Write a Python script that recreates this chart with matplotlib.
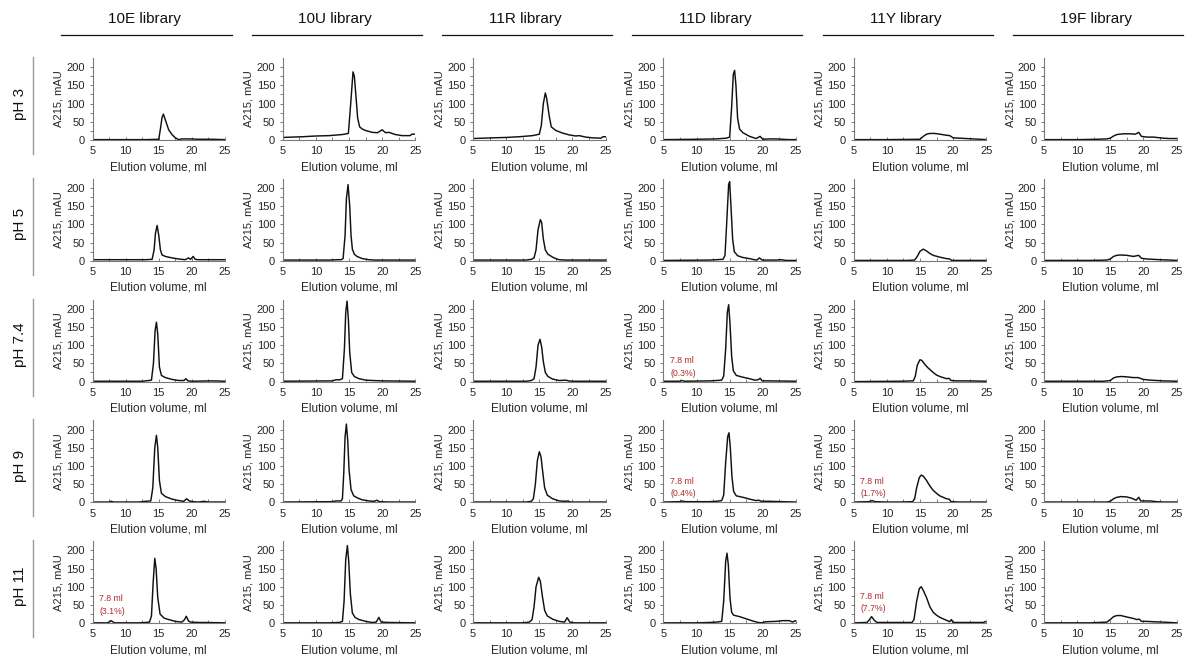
import numpy as np
import matplotlib
matplotlib.use("Agg")
import matplotlib.pyplot as plt
from matplotlib.lines import Line2D

plt.rcParams['font.family'] = ['Liberation Sans', 'DejaVu Sans']

libraries = ["10E library", "10U library", "11R library", "11D library", "11Y library", "19F library"]
ph_labels = ["pH 3", "pH 5", "pH 7.4", "pH 9", "pH 11"]

# chromatograms: (elution volume ml, A215 mAU)
# pH 3
ph3_10E = [(5, 1), (13, 1), (15.0, 2), (15.25, 30), (15.5, 62), (15.7, 71), (16.0, 55), (16.5, 28),
           (17, 15), (17.5, 6), (18, 1), (18.5, 3), (19.5, 3), (21, 2), (23, 2), (25, 1)]
ph3_10U = [(5, 7), (8, 9), (10, 11), (12, 12), (14, 15), (14.9, 18), (15.25, 100), (15.6, 187),
           (15.8, 175), (16.0, 130), (16.3, 60), (16.6, 36), (17, 30), (17.5, 26), (18.5, 21), (19.3, 20),
           (20, 28), (20.5, 20), (21, 21), (22, 15), (23, 12), (24.2, 12), (24.5, 16), (25, 16)]
ph3_11R = [(5, 4), (8, 6), (10, 7), (12, 9), (14, 12), (15.0, 16), (15.3, 40), (15.6, 100),
           (15.9, 129), (16.1, 115), (16.5, 65), (16.8, 36), (17.5, 26), (18.5, 19), (19.5, 14),
           (20.5, 11), (21, 12), (22, 8), (23, 6), (24.3, 5), (24.6, 9), (25, 9)]
ph3_11D = [(5, 1), (10, 2), (13, 3), (14.5, 5), (15.0, 8), (15.3, 90), (15.55, 180), (15.75, 191),
           (15.95, 150), (16.2, 60), (16.5, 30), (17, 20), (18, 10), (19, 4), (19.6, 10), (20, 2),
           (21, 3), (22, 3), (24, 1), (25, 1)]
ph3_11Y = [(5, 1), (10, 1), (15.0, 2), (15.5, 10), (16, 16), (16.5, 18), (17.2, 18), (18, 16),
           (19, 13), (19.5, 12), (20, 6), (21, 5), (22, 4), (23, 3), (24, 2), (25, 1)]
ph3_19F = [(5, 1), (10, 1), (13, 2), (14.5, 3), (15, 5), (15.5, 11), (16, 15), (17, 17), (18, 17),
           (18.8, 16), (19.3, 21), (19.7, 10), (20.5, 8), (21.5, 8), (22, 7), (23, 5), (24, 4), (25, 4)]

# pH 5
ph5_10E = [(5, 3), (13, 3), (14, 4), (14.3, 30), (14.5, 75), (14.75, 97), (15, 70), (15.25, 30),
           (15.5, 16), (16, 12), (16.5, 10), (17, 8), (18, 5), (19, 3), (19.5, 8), (19.8, 4),
           (20.2, 12), (20.5, 4), (21, 3), (25, 3)]
ph5_10U = [(5, 2), (12, 2), (13.3, 3), (13.8, 3), (14.1, 6), (14.4, 70), (14.6, 170), (14.85, 209),
           (15.1, 150), (15.3, 70), (15.5, 32), (15.8, 18), (16.2, 12), (17, 6), (18, 3), (19, 2), (25, 2)]
ph5_11R = [(5, 2), (13, 2), (13.8, 4), (14.2, 8), (14.5, 30), (14.8, 85), (15.15, 113), (15.35, 105),
           (15.6, 60), (15.9, 30), (16.3, 18), (17, 10), (17.5, 6), (18, 3), (19, 2), (25, 2)]
ph5_11D = [(5, 1), (12, 2), (13, 3), (14.0, 4), (14.3, 15), (14.6, 120), (14.85, 210), (15.0, 217),
           (15.2, 150), (15.45, 60), (15.7, 25), (16.2, 14), (17, 9), (18, 6), (18.7, 3), (19.1, 2),
           (19.5, 8), (19.9, 2), (22, 2), (22.8, 3), (23.5, 1), (25, 1)]
ph5_11Y = [(5, 1), (13, 1), (14.2, 2), (14.6, 12), (15.0, 26), (15.5, 32), (16, 27), (16.5, 20),
           (17, 15), (18, 10), (19, 6), (19.5, 5), (19.8, 1), (21, 1), (25, 1)]
ph5_19F = [(5, 1), (12, 1), (14.5, 2), (15, 5), (15.5, 12), (16, 15), (16.5, 16), (17.5, 15),
           (18.5, 12), (19.3, 15), (19.7, 7), (20.5, 5), (21.5, 4), (22.5, 3), (24, 2), (25, 1)]

# pH 7.4
ph74_10E = [(5, 1), (12.5, 1), (13.5, 3), (13.9, 4), (14.2, 50), (14.45, 140), (14.65, 163),
            (14.85, 130), (15.1, 40), (15.4, 17), (16, 11), (17, 6), (18, 3), (18.8, 3), (19.1, 8),
            (19.4, 2), (20, 1), (23, 2), (25, 1)]
ph74_10U = [(5, 1), (12.5, 2), (13, 5), (13.6, 5), (14.0, 8), (14.3, 90), (14.5, 190), (14.7, 221),
            (14.9, 170), (15.1, 80), (15.4, 25), (15.8, 14), (16.5, 8), (17.5, 4), (18.5, 3), (20, 2), (25, 1)]
ph74_11R = [(5, 1), (13, 1), (13.8, 3), (14.2, 8), (14.5, 40), (14.8, 100), (15.1, 116), (15.35, 95),
            (15.6, 55), (15.9, 25), (16.3, 14), (17, 7), (18, 3), (19, 4), (19.4, 2), (20, 1), (25, 1)]
ph74_11D = [(5, 1), (7.5, 1), (7.8, 3), (8.2, 1), (12, 2), (13, 3), (13.8, 4), (14.1, 15), (14.4, 90),
            (14.65, 190), (14.85, 211), (15.05, 160), (15.3, 70), (15.55, 30), (16, 17), (17, 12),
            (18, 8), (18.8, 4), (19.3, 5), (19.6, 9), (19.9, 2), (21, 2), (25, 1)]
ph74_11Y = [(5, 0), (12, 1), (14, 2), (14.3, 15), (14.6, 45), (15.0, 60), (15.3, 58), (15.7, 48),
            (16.2, 38), (17, 25), (17.5, 18), (18, 14), (18.5, 11), (19, 8), (19.4, 9), (19.7, 3),
            (20.5, 2), (22, 2), (25, 1)]
ph74_19F = [(5, 1), (14, 1), (15, 3), (15.5, 10), (16, 13), (16.7, 14), (17.5, 13), (18.5, 11),
            (19.2, 11), (20, 6), (21, 4), (22, 3), (23, 2), (25, 1)]

# pH 9
ph9_10E = [(5, 1), (7.5, 1), (7.8, 3), (8.2, 1), (12, 1), (13, 3), (13.8, 4), (14.1, 40), (14.4, 150),
           (14.65, 184), (14.85, 150), (15.1, 60), (15.4, 25), (16, 16), (17, 9), (18, 5), (18.8, 3),
           (19.2, 10), (19.6, 4), (20.2, 2), (21, 1), (21.8, 3), (22.5, 1), (25, 1)]
ph9_10U = [(5, 1), (12.5, 2), (13, 4), (13.8, 4), (14.0, 10), (14.2, 80), (14.4, 180), (14.6, 215),
           (14.8, 170), (15.0, 90), (15.3, 35), (15.7, 18), (16.3, 12), (17, 7), (18, 4), (18.8, 3),
           (19.2, 6), (19.6, 2), (21, 1), (25, 1)]
ph9_11R = [(5, 1), (13, 1), (13.8, 3), (14.1, 10), (14.4, 50), (14.7, 115), (15.0, 139), (15.25, 125),
           (15.5, 85), (15.8, 40), (16.2, 20), (17, 10), (18, 4), (19, 3), (19.3, 4), (19.7, 1), (25, 1)]
ph9_11D = [(5, 1), (7.5, 2), (7.8, 4), (8.3, 2), (12, 2), (13, 3), (13.8, 5), (14.1, 20), (14.4, 110),
           (14.7, 180), (14.9, 191), (15.1, 150), (15.35, 70), (15.6, 30), (16, 18), (17, 14), (18, 9),
           (19, 5), (19.4, 6), (19.8, 3), (21, 3), (23, 2), (25, 1)]
ph9_11Y = [(5, 1), (7.3, 2), (7.8, 5), (8.2, 2), (10, 1), (12, 1), (13.9, 2), (14.2, 10), (14.5, 40),
           (14.9, 68), (15.2, 75), (15.5, 72), (16, 60), (16.5, 45), (17, 33), (17.5, 25), (18, 18),
           (18.5, 14), (19, 10), (19.4, 9), (19.7, 2), (21, 1), (25, 1)]
ph9_19F = [(5, 1), (14.5, 1), (15, 3), (15.5, 10), (16, 14), (16.6, 16), (17.5, 15), (18.3, 11),
           (18.9, 6), (19.3, 14), (19.6, 4), (20, 4), (21, 4), (22, 2), (23, 1), (25, 1)]

# pH 11
ph11_10E = [(5, 1), (7.3, 1), (7.8, 7), (8.3, 1), (12, 1), (13, 2), (13.6, 3), (13.9, 20), (14.15, 110),
            (14.4, 178), (14.6, 150), (14.85, 70), (15.2, 25), (15.8, 14), (16.5, 10), (17.5, 5),
            (18.5, 3), (18.9, 10), (19.15, 19), (19.5, 6), (19.8, 3), (21, 2), (22, 2), (25, 1)]
ph11_10U = [(5, 1), (12, 1), (13.5, 2), (14.0, 5), (14.25, 60), (14.5, 175), (14.75, 213), (14.95, 170),
            (15.2, 80), (15.5, 28), (15.9, 16), (16.5, 10), (17.5, 5), (18.5, 2), (19.1, 3), (19.5, 16),
            (19.85, 3), (21, 2), (25, 1)]
ph11_11R = [(5, 1), (12.5, 1), (13.5, 3), (13.9, 10), (14.2, 45), (14.5, 100), (14.9, 126), (15.15, 115),
            (15.45, 75), (15.8, 35), (16.2, 20), (17, 11), (18, 5), (18.8, 3), (19.2, 15), (19.6, 3),
            (20.2, 1), (25, 1)]
ph11_11D = [(5, 1), (10, 1), (12, 2), (13, 3), (13.8, 5), (14.1, 60), (14.4, 170), (14.6, 192),
            (14.8, 160), (15.05, 70), (15.3, 30), (15.6, 22), (16.5, 18), (17.5, 12), (18.5, 6),
            (19.3, 2), (19.8, 1), (20.5, 4), (22, 5), (23, 7), (24, 7), (24.5, 3), (24.9, 7), (25, 6)]
ph11_11Y = [(5, 1), (7, 2), (7.4, 10), (7.7, 18), (8.1, 8), (8.5, 2), (10, 2), (13.8, 2), (14.1, 10),
            (14.5, 60), (14.9, 95), (15.2, 100), (15.5, 90), (16, 70), (16.5, 45), (17, 30), (17.5, 22),
            (18, 16), (18.5, 12), (19, 8), (19.5, 4), (19.75, 10), (20, 2), (22, 2), (24.6, 2),
            (24.9, 5), (25, 4)]
ph11_19F = [(5, 1), (12, 1), (14.5, 3), (15, 10), (15.5, 18), (16, 21), (16.6, 21), (17.5, 17),
            (18.5, 13), (19, 10), (19.4, 11), (19.7, 5), (20.5, 5), (21.5, 4), (23, 3), (24, 2), (25, 1)]

traces = [
    [ph3_10E, ph3_10U, ph3_11R, ph3_11D, ph3_11Y, ph3_19F],
    [ph5_10E, ph5_10U, ph5_11R, ph5_11D, ph5_11Y, ph5_19F],
    [ph74_10E, ph74_10U, ph74_11R, ph74_11D, ph74_11Y, ph74_19F],
    [ph9_10E, ph9_10U, ph9_11R, ph9_11D, ph9_11Y, ph9_19F],
    [ph11_10E, ph11_10U, ph11_11R, ph11_11D, ph11_11Y, ph11_19F],
]

# aggregate peak at 7.8 ml, (row, column) -> text
notes = {
    (4, 0): "7.8 ml\n(3.1%)",
    (2, 3): "7.8 ml\n(0.3%)",
    (3, 3): "7.8 ml\n(0.4%)",
    (3, 4): "7.8 ml\n(1.7%)",
    (4, 4): "7.8 ml\n(7.7%)",
}
note_y = {(4, 0): 50, (2, 3): 40, (3, 3): 41, (3, 4): 41, (4, 4): 56}

W, H = 1190, 662
fig = plt.figure(figsize=(W / 100, H / 100), dpi=100)


def fx(px):
    return px / W


def fy(py):
    return 1 - py / H


col_left = [92.5 + 190.3 * c for c in range(6)]
row_top = [58 + 120.8 * r for r in range(5)]
ax_w, ax_h = 132.5, 82
axis_grey = '#7a7a7a'
text_col = '#262626'

for r, row in enumerate(traces):
    for c, pts in enumerate(row):
        left, top = col_left[c], row_top[r]
        ax = fig.add_axes([fx(left), fy(top + ax_h), ax_w / W, ax_h / H])
        ml = [p[0] for p in pts]
        mau = [p[1] for p in pts]
        ax.plot(ml, mau, color='#111111', lw=1.05)

        ax.set_xlim(5, 25)
        ax.set_ylim(0, 225)
        ax.set_xticks(range(5, 26, 5))
        ax.set_xticks(np.arange(5, 25.1, 2.5), minor=True)
        ax.set_yticks(range(0, 201, 50))
        ax.set_yticks(range(0, 201, 25), minor=True)
        for s in ['top', 'right']:
            ax.spines[s].set_visible(False)
        for s in ['left', 'bottom']:
            ax.spines[s].set_color(axis_grey)
            ax.spines[s].set_linewidth(0.8)
        ax.tick_params(axis='x', which='both', direction='in', length=2.5, width=0.7,
                       color=axis_grey, labelsize=8, labelcolor=text_col, pad=4.5)
        ax.tick_params(axis='y', which='both', direction='out', length=2.5, width=0.7,
                       color=axis_grey, labelsize=8, labelcolor=text_col, pad=3)
        ax.set_xlabel("Elution volume, ml", fontsize=8.5, color=text_col, labelpad=3.5)
        ax.set_ylabel("A215, mAU", fontsize=8, color=text_col, labelpad=2)

        if (r, c) in notes:
            ax.text(6.0, note_y[(r, c)], notes[(r, c)], fontsize=6.3, color='#b22a2a',
                    ha='left', va='center', linespacing=1.45)

# column headers with rule underneath
for c, name in enumerate(libraries):
    x0 = col_left[c] - 31
    x1 = col_left[c] + 139
    fig.text(fx((x0 + x1) / 2 - 2), fy(18.5), name, fontsize=11, ha='center', va='center', color='#111111')
    fig.add_artist(Line2D([fx(x0), fx(x1)], [fy(35), fy(35)], color='#111111', lw=0.9,
                          transform=fig.transFigure))

# row labels with grey bar
for r, lab in enumerate(ph_labels):
    y0 = row_top[r] - 1
    y1 = row_top[r] + ax_h + 14
    fig.add_artist(Line2D([fx(32.5), fx(32.5)], [fy(y0), fy(y1)], color='#9a9a9a', lw=1.0,
                          transform=fig.transFigure))
    fig.text(fx(20), fy((y0 + y1) / 2 - 2), lab, fontsize=11, rotation=90, ha='center', va='center',
             color='#111111')

fig.savefig("out.png", dpi=100)
